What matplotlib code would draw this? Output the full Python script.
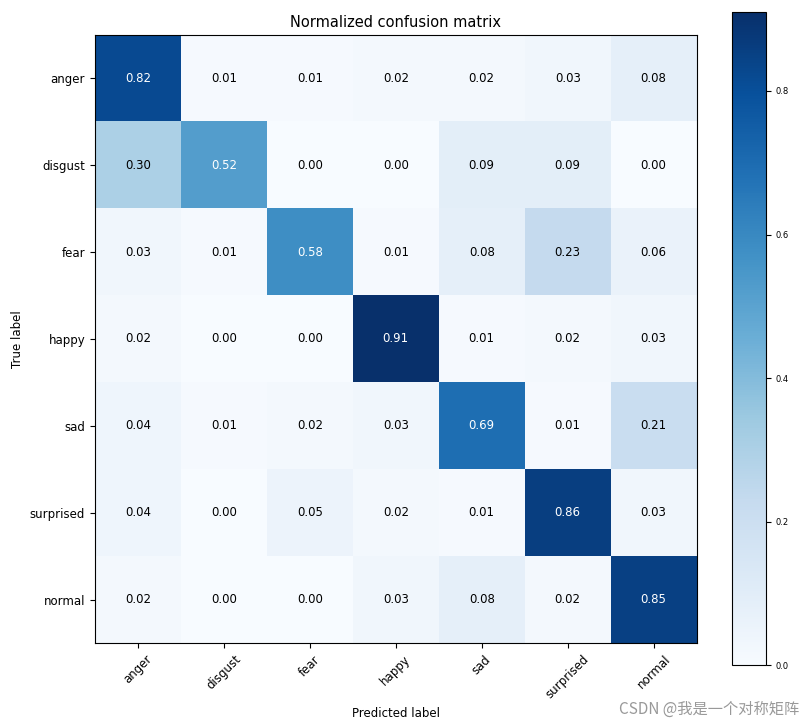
import numpy as np
import matplotlib
matplotlib.use("Agg")
import matplotlib.pyplot as plt

classes = ["anger", "disgust", "fear", "happy", "sad", "surprised", "normal"]
anger = [0.82, 0.01, 0.01, 0.02, 0.02, 0.03, 0.08]
disgust = [0.30, 0.52, 0.00, 0.00, 0.09, 0.09, 0.00]
fear = [0.03, 0.01, 0.58, 0.01, 0.08, 0.23, 0.06]
happy = [0.02, 0.00, 0.00, 0.91, 0.01, 0.02, 0.03]
sad = [0.04, 0.01, 0.02, 0.03, 0.69, 0.01, 0.21]
surprised = [0.04, 0.00, 0.05, 0.02, 0.01, 0.86, 0.03]
normal = [0.02, 0.00, 0.00, 0.03, 0.08, 0.02, 0.85]

cm = np.array([anger, disgust, fear, happy, sad, surprised, normal])

fig = plt.figure(figsize=(8.11, 7.27), dpi=100)
ax = fig.add_axes([0.117, 0.1155, 0.742, 0.8365])
cax = fig.add_axes([0.9026, 0.085, 0.042, 0.8985])

im = ax.imshow(cm, interpolation="nearest", cmap=plt.cm.Blues, aspect="auto")
ax.set_title("Normalized confusion matrix", fontsize=10.5)
cb = fig.colorbar(im, cax=cax)
cb.set_ticks([0.0, 0.2, 0.4, 0.6, 0.8])
cb.ax.tick_params(labelsize=6)

ticks = np.arange(len(classes))
ax.set_xticks(ticks)
ax.set_xticklabels(classes, rotation=45, fontsize=8.5)
ax.set_yticks(ticks)
ax.set_yticklabels(classes, fontsize=8.5)

thresh = cm.max() / 2.
for i in range(cm.shape[0]):
    for j in range(cm.shape[1]):
        ax.text(j, i, format(cm[i, j], ".2f"), ha="center", va="center",
                fontsize=8.5, color="white" if cm[i, j] > thresh else "black")

ax.set_ylabel("True label", fontsize=8.5)
ax.set_xlabel("Predicted label", fontsize=8.5)

fig.text(0.985, 0.012, "CSDN @我是一个对称矩阵", ha="right", va="bottom",
         fontsize=11, color="#999999", family=["Noto Sans CJK SC", "DejaVu Sans"])

fig.savefig("out.png", dpi=100)
